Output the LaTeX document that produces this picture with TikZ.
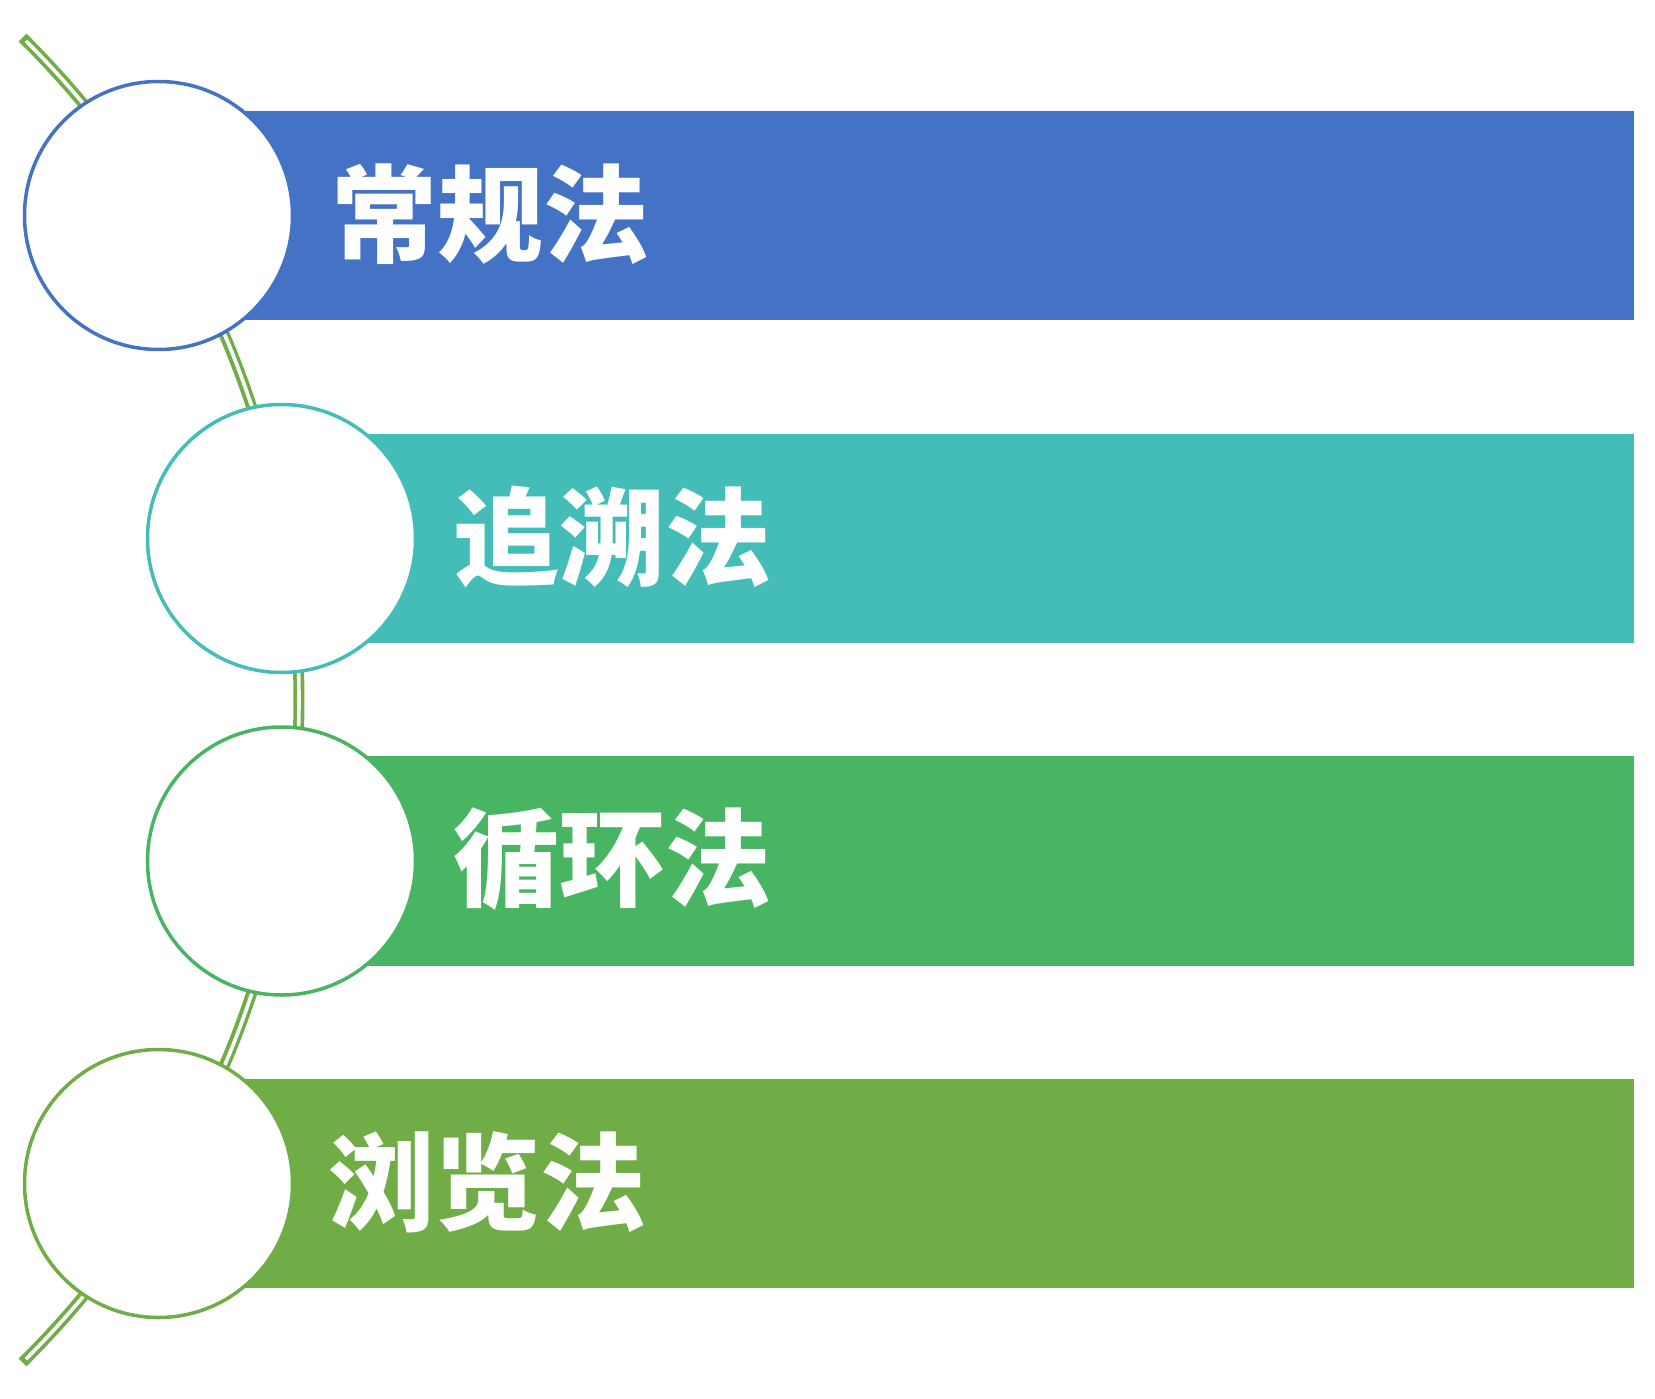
\documentclass[tikz,border=0pt]{standalone}
\usepackage{fontspec}
\newfontfamily\cjk{Noto Sans CJK SC}
\definecolor{cblue}{HTML}{4472C4}
\definecolor{cteal}{HTML}{44BDB8}
\definecolor{cgreen}{HTML}{48B563}
\definecolor{colive}{HTML}{70AD47}
\tikzset{
  bar/.style={fill=#1, draw=none},
  ring/.style={draw=#1, line width=3.5pt, fill=white, circle, minimum size=268pt, inner sep=0pt},
  lbl/.style={text=white, font=\cjk\bfseries\fontsize{106}{112}\selectfont, anchor=west, inner sep=0pt},
}
\begin{document}
\begin{tikzpicture}[x=1pt,y=-1pt]
\useasboundingbox (0,0) rectangle (1655,1399);
% connector arc
\draw[colive, line width=11pt] (-633,700) ++(-45.3:932) arc[start angle=-45.3, end angle=45.3, radius=932];
\draw[white, line width=3.6pt] (-633,700) ++(-45.0:932) arc[start angle=-45.0, end angle=45.0, radius=932];
% bars
\fill[cblue] (158,111) rectangle (1634,320);
\fill[cteal] (281,434) rectangle (1634,643);
\fill[cgreen] (281,756) rectangle (1634,966);
\fill[colive] (158,1079) rectangle (1634,1288);
% circles
\node[ring=cblue] (c1) at (158.5,215.5) {};
\node[ring=cteal] (c2) at (281.5,538.5) {};
\node[ring=cgreen] (c3) at (281.5,861) {};
\node[ring=colive] (c4) at (158.5,1183.5) {};
% labels
\node[lbl] (t1) at (331,214) {常规法};
\node[lbl] (t2) at (453,537) {追溯法};
\node[lbl] (t3) at (453,859.5) {循环法};
\node[lbl] (t4) at (328,1182) {浏览法};
\end{tikzpicture}
\end{document}
